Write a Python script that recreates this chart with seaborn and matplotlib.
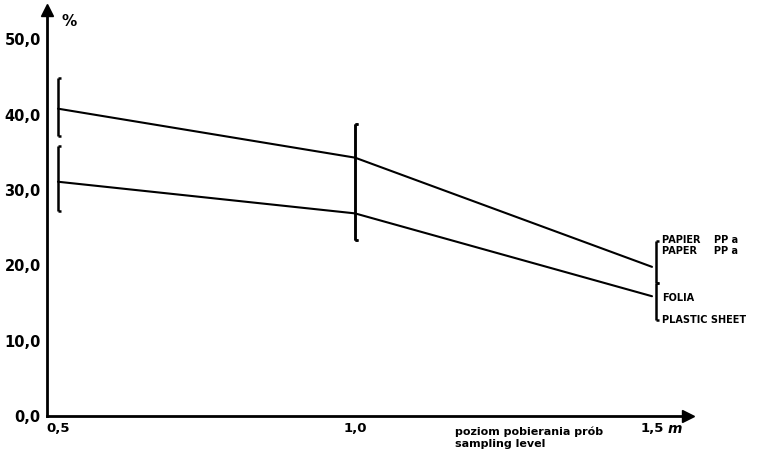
import matplotlib
matplotlib.use('Agg')
import matplotlib.pyplot as plt
import seaborn as sns
import pandas as pd

# sampling levels (m) and mean values (%)
levels = [0.5, 1.0, 1.5]
paper = [40.8, 34.3, 19.8]
foil = [31.1, 26.9, 15.9]

# error ranges (low, high) read from the brackets
paper_lo = [37.2, 23.4, 17.6]
paper_hi = [44.9, 38.8, 23.2]
foil_lo = [27.2, 23.4, 12.8]
foil_hi = [35.8, 38.8, 17.6]

y_ticks = [0, 10, 20, 30, 40, 50]
y_labels = ['0,0', '10,0', '20,0', '30,0', '40,0', '50,0']
x_labels = ['0,5', '1,0', '1,5']

df = pd.DataFrame({
    'level': levels * 2,
    'value': paper + foil,
    'series': ['PAPIER'] * 3 + ['FOLIA'] * 3,
})

sns.set_style('white')
plt.rcParams['font.family'] = ['DejaVu Sans']
plt.rcParams['font.weight'] = 'bold'
plt.rcParams['text.color'] = 'black'
plt.rcParams['xtick.color'] = 'black'
plt.rcParams['ytick.color'] = 'black'

fig = plt.figure(figsize=(7.57, 4.65), dpi=100)
ax = fig.add_axes([47 / 757, 49 / 465, 641 / 757, 406 / 465])

sns.lineplot(data=df, x='level', y='value', units='series', estimator=None,
             color='black', lw=1.5, legend=False, ax=ax)

# bracket-style error bars
offs = [0.0, 0.0, 0.006]
for i, x in enumerate(levels):
    xb = x + offs[i]
    for lo, hi in [(paper_lo[i], paper_hi[i]), (foil_lo[i], foil_hi[i])]:
        ax.vlines(xb, lo, hi, color='black', lw=1.8)
        ax.hlines([lo, hi], xb, xb + 0.005, color='black', lw=1.8)

ax.set_xlim(0.4815, 1.5606)
ax.set_ylim(0, 53.9)
ax.set_yticks(y_ticks)
ax.set_yticklabels(y_labels, fontsize=10.5)
ax.set_xticks(levels)
ax.set_xticklabels(x_labels, fontsize=9.5)
ax.tick_params(axis='both', direction='inout', length=5, width=1.5, pad=2)
ax.set_xlabel('')
ax.set_ylabel('')

for s in ['top', 'right']:
    ax.spines[s].set_visible(False)
for s in ['left', 'bottom']:
    ax.spines[s].set_linewidth(2)
    ax.spines[s].set_color('black')

# axis arrows
ax.plot(0, 1, '^k', ms=8, transform=ax.transAxes, clip_on=False)
ax.plot(1, 0, '>k', ms=8, transform=ax.transAxes, clip_on=False)

ax.text(0.022, 0.99, '%', transform=ax.transAxes, fontsize=11, va='top')
ax.text(1.526, -0.75, 'm', fontsize=10, ha='left', va='top', style='italic')
ax.text(1.168, -1.4, 'poziom pobierania prób\nsampling level', fontsize=8,
        ha='left', va='top', linespacing=1.2)

# series labels on the right
ax.text(1.517, 23.4, 'PAPIER    PP a', fontsize=7, va='center')
ax.text(1.517, 21.9, 'PAPER     PP a', fontsize=7, va='center')
ax.text(1.517, 15.6, 'FOLIA', fontsize=7, va='center')
ax.text(1.517, 12.7, 'PLASTIC SHEET', fontsize=7, va='center')

fig.savefig('out.png', dpi=100)
